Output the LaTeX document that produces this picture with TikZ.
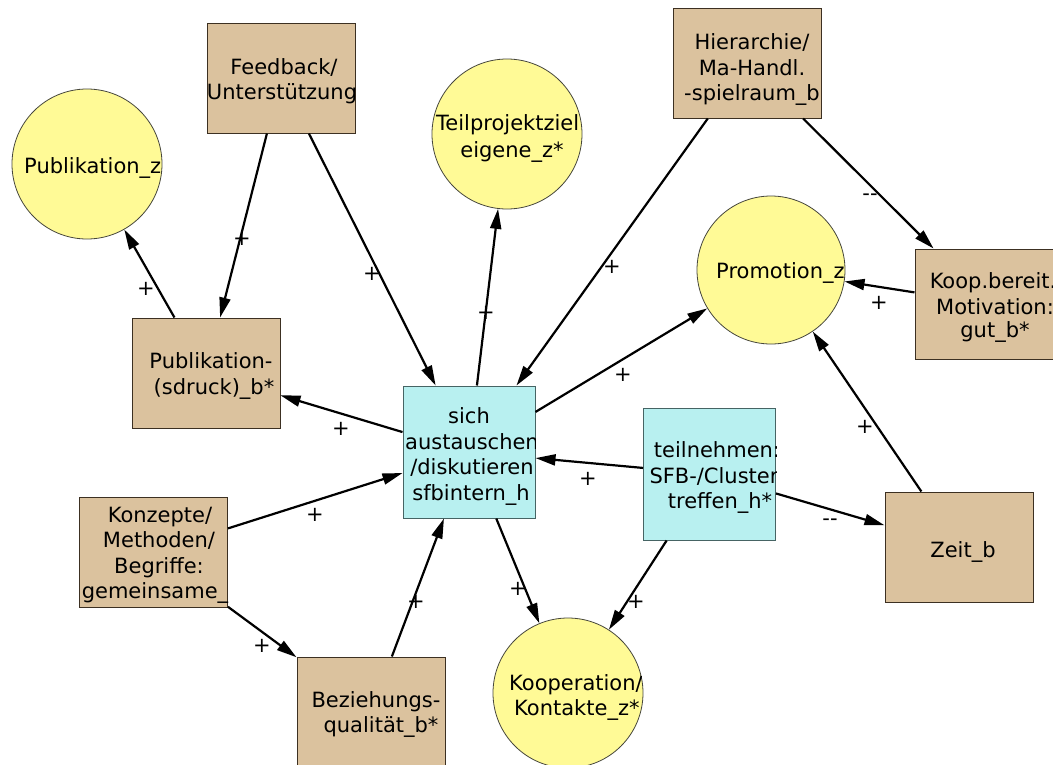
\documentclass[tikz,border=0pt]{standalone}
\usepackage{fontspec}
\setmainfont{DejaVu Sans}
\usetikzlibrary{arrows.meta}
\definecolor{tanfill}{RGB}{219,194,158}
\definecolor{tanline}{RGB}{60,48,34}
\definecolor{yelfill}{RGB}{255,250,150}
\definecolor{yelline}{RGB}{70,70,60}
\definecolor{cyanfill}{RGB}{184,240,240}
\definecolor{cyanline}{RGB}{70,100,100}
\newcommand\dminus{-\kern0pt-}
\begin{document}
\begin{tikzpicture}[x=1pt,y=-1pt,
  every node/.style={font=\fontsize{21pt}{25pt}\selectfont},
  tanbox/.style={rectangle,draw=tanline,fill=tanfill,line width=1pt,minimum width=148pt,minimum height=110pt,inner sep=0pt},
  cyanbox/.style={rectangle,draw=cyanline,fill=cyanfill,line width=1pt,minimum width=132pt,minimum height=132pt,inner sep=0pt},
  zcirc/.style={circle,draw=yelline,fill=yelfill,line width=0.8pt,minimum size=150pt,inner sep=0pt},
  txt/.style={inner sep=0pt,anchor=base},
  txtl/.style={inner sep=0pt,anchor=base west},
  sign/.style={inner sep=0pt},
  arr/.style={line width=2.2pt,-{Triangle[length=20pt,width=11pt]}}
]
\fill[white] (0,0) rectangle (1053,764);
\useasboundingbox (0,0) rectangle (1053,764);
\begin{scope}
\clip (0,0) rectangle (1053,764);

% shapes
\node[zcirc] (pubz) at (87,164) {};
\node[zcirc] (tpz) at (507,134) {};
\node[zcirc, minimum size=148pt] (prom) at (771,270) {};
\node[zcirc] (koopz) at (568,693) {};
\node[tanbox] (feed) at (281,78) {};
\node[tanbox] (hier) at (747.5,63) {};
\node[tanbox] (koop) at (989,304) {};
\node[tanbox] (pubb) at (206,373) {};
\node[tanbox] (konz) at (153.5,552) {};
\node[tanbox] (bez) at (371,712) {};
\node[tanbox] (zeit) at (959,547) {};
\node[cyanbox] (sich) at (469,452) {};
\node[cyanbox] (teil) at (709.5,474) {};

% texts, clipped to their shapes
\begin{scope}\clip (pubz) circle[radius=75pt];
\node[txtl] (pubzA) at (24,173) {Publikation\_z};
\end{scope}
\begin{scope}\clip (tpz) circle[radius=75pt];
\node[txtl] (tpzA) at (436,130) {Teilprojektziel};
\node[txt] (tpzB) at (512,157) {eigene\_z*};
\end{scope}
\begin{scope}\clip (prom) circle[radius=74pt];
\node[txtl] (promA) at (716,278) {Promotion\_z};
\end{scope}
\begin{scope}\clip (koopz) circle[radius=75pt];
\node[txtl] (koopzA) at (509,690) {Kooperation/};
\node[txtl] (koopzB) at (514,715) {Kontakte\_z*};
\end{scope}
\begin{scope}\clip (feed.south west) rectangle (feed.north east);
\node[txt] (feedA) at (284,74) {Feedback/};
\node[txt] (feedB) at (282,99) {Unterstützung};
\end{scope}
\begin{scope}\clip (hier.south west) rectangle (hier.north east);
\node[txt] (hierA) at (752,49) {Hierarchie/};
\node[txt] (hierB) at (752,75) {Ma-Handl.};
\node[txt] (hierC) at (752,100) {-spielraum\_b};
\end{scope}
\begin{scope}\clip (koop.south west) rectangle (koop.north east);
\node[txt] (koopA) at (993,288) {Koop.bereit.};
\node[txt] (koopB) at (995,314) {Motivation:};
\node[txt] (koopC) at (995,337) {gut\_b*};
\end{scope}
\begin{scope}\clip (pubb.south west) rectangle (pubb.north east);
\node[txt] (pubbA) at (211,368) {Publikation-};
\node[txt] (pubbB) at (214,394) {(sdruck)\_b*};
\end{scope}
\begin{scope}\clip (konz.south west) rectangle (konz.north east);
\node[txt] (konzA) at (160,522) {Konzepte/};
\node[txt] (konzB) at (159,547) {Methoden/};
\node[txt] (konzC) at (159,573) {Begriffe:};
\node[txt] (konzD) at (155,598) {gemeinsame\_};
\end{scope}
\begin{scope}\clip (bez.south west) rectangle (bez.north east);
\node[txt] (bezA) at (376,707) {Beziehungs-};
\node[txt] (bezB) at (381,732) {qualität\_b*};
\end{scope}
\begin{scope}\clip (zeit.south west) rectangle (zeit.north east);
\node[txt] (zeitA) at (963,557) {Zeit\_b};
\end{scope}
\begin{scope}\clip (sich.south west) rectangle (sich.north east);
\node[txt] (sichA) at (469,423) {sich};
\node[txt] (sichB) at (472,449) {austauschen};
\node[txt] (sichC) at (472,474) {/diskutieren};
\node[txt] (sichD) at (471,500) {sfbintern\_h};
\end{scope}
\begin{scope}\clip (teil.south west) rectangle (teil.north east);
\node[txt] (teilA) at (717,457) {teilnehmen:};
\node[txt] (teilB) at (714,483) {SFB-/Cluster};
\node[txt] (teilC) at (720,508) {treffen\_h*};
\end{scope}

% connectors
\draw[arr] (pubb) -- (pubz);
\draw[arr] (feed) -- (pubb);
\draw[arr] (feed) -- (sich);
\draw[arr] (sich) -- (tpz);
\draw[arr] (hier) -- (sich);
\draw[arr] (hier) -- (koop);
\draw[arr] (koop) -- (prom);
\draw[arr] (sich) -- (prom);
\draw[arr] (zeit) -- (prom);
\draw[arr] (sich) -- (pubb);
\draw[arr] (konz) -- (sich);
\draw[arr] (teil) -- (sich);
\draw[arr] (teil) -- (zeit);
\draw[arr] (konz) -- (bez);
\draw[arr] (bez) -- (sich);
\draw[arr] (sich) -- (koopz);
\draw[arr] (teil) -- (koopz);

% connector labels
\node[sign] (la) at (146,289) {+};
\node[sign] (lb) at (242,239) {+};
\node[sign] (lc) at (372,274) {+};
\node[sign] (ld) at (486,313) {+};
\node[sign] (le) at (612,267) {+};
\node[sign] (lf) at (870,197) {\dminus};
\node[sign] (lg) at (879,303) {+};
\node[sign] (lh) at (623,375) {+};
\node[sign] (li) at (865,427) {+};
\node[sign] (lj) at (341,429) {+};
\node[sign] (lk) at (315,515) {+};
\node[sign] (ll) at (588,479) {+};
\node[sign] (lm) at (830,522) {\dminus};
\node[sign] (ln) at (262,646) {+};
\node[sign] (lo) at (416,602) {+};
\node[sign] (lp) at (518,589) {+};
\node[sign] (lq) at (636,602) {+};
\end{scope}
\end{tikzpicture}
\end{document}
